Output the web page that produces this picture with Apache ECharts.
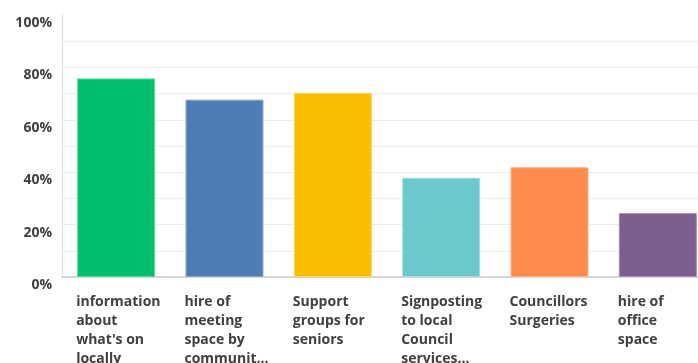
<!DOCTYPE html>
<html>
<head>
<meta charset="utf-8">
<script src="https://cdn.jsdelivr.net/npm/echarts@6/dist/echarts.min.js"></script>
<style>
  html, body { margin: 0; padding: 0; background: #fff; }
  #main { width: 698px; height: 363px; }
</style>
</head>
<body>
<div id="main"></div>
<script>
// categories as they are wrapped in the picture
var categories = [
    'information\nabout\nwhat\'s on\nlocally',
    'hire of\nmeeting\nspace by\ncommunit...',
    'Support\ngroups for\nseniors',
    'Signposting\nto local\nCouncil\nservices...',
    'Councillors\nSurgeries',
    'hire of\noffice\nspace'
];
var values = [75.8, 67.7, 70.3, 37.9, 41.9, 24.4];
var barColors = ['#00BF6F', '#507CB6', '#F9BE00', '#6BC8CD', '#FF8B4F', '#7D5E90'];
var edgeColors = ['#5fd9a2', '#8aa7d0', '#fcd75e', '#a4dde0', '#ffb48c', '#a890b5'];

var chart = echarts.init(document.getElementById('main'));

var labelFont = '"Open Sans", Roboto, "DejaVu Sans", sans-serif';

// 11 split lines (0..100), hide the top one
var splitColors = [];
for (var i = 0; i <= 10; i++) {
    splitColors.push(i === 10 ? 'rgba(0,0,0,0)' : '#ececec');
}

var option = {
    animation: false,
    grid: {
        left: 62,
        top: 15,
        width: 650,   // plot runs past the right edge of the picture
        bottom: 86,
        outerBoundsMode: 'none'
    },
    xAxis: {
        type: 'category',
        data: categories,
        axisLine: { lineStyle: { color: '#d6d6d6', width: 2 } },
        axisTick: { show: false },
        axisLabel: {
            interval: 0,
            margin: 16,
            formatter: function (v) {
                return v.split('\n').map(function (s) { return '{t|' + s + '}'; }).join('\n');
            },
            rich: {
                t: {
                    width: 80,
                    align: 'left',
                    fontSize: 14,
                    fontWeight: 'bold',
                    lineHeight: 19,
                    color: '#404040',
                    fontFamily: labelFont
                }
            }
        }
    },
    yAxis: {
        type: 'value',
        min: 0,
        max: 100,
        interval: 10,
        axisLine: { show: true, lineStyle: { color: '#dcdcdc', width: 1 } },
        axisTick: { show: false },
        splitLine: { lineStyle: { color: splitColors, width: 1 } },
        axisLabel: {
            margin: 10,
            verticalAlign: 'top',
            padding: [1, 0, 0, 0],
            fontSize: 14,
            fontWeight: 'bold',
            color: '#404040',
            fontFamily: labelFont,
            formatter: function (v) {
                return v % 20 === 0 ? v + '%' : '';
            }
        }
    },
    series: [{
        type: 'bar',
        barCategoryGap: '28%',
        data: values.map(function (v, i) {
            return {
                value: v,
                itemStyle: { color: barColors[i], borderColor: edgeColors[i], borderWidth: 1 }
            };
        })
    }]
};

chart.setOption(option);
</script>
</body>
</html>
